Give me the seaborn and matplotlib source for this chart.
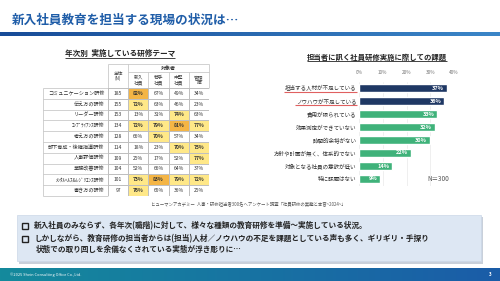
import numpy as np
import pandas as pd
import matplotlib
matplotlib.use("Agg")
import matplotlib.pyplot as plt
import seaborn as sns
from matplotlib.colors import ListedColormap, LinearSegmentedColormap
from matplotlib.patches import Rectangle

# ---------------- data ----------------
title = "新入社員教育を担当する現場の状況は…"
table_title = "年次別  実施している研修テーマ"
themes = ["コミュニケーション研修", "伝え方の研修", "リーダー研修", "ｺﾝﾌﾟﾗｲｱﾝｽ研修", "考え方の研修",
          "部下育成・後継指導研修", "人事評価研修", "業務改善研修", "ﾒﾝﾀﾙﾍﾙｽ&ﾚｼﾞﾘｴﾝｽ研修", "書き方の研修"]
theme_n = [185, 155, 153, 134, 128, 114, 109, 104, 101, 97]
n_header = "全体\n(N)"
target_header = "対象者"
grades = ["新入\n社員", "若手\n社員", "中堅\n社員", "管理\n職"]
pct_new = [82, 72, 13, 72, 66, 18, 25, 52, 73, 76]
pct_young = [67, 63, 31, 79, 70, 23, 17, 66, 83, 65]
pct_mid = [49, 46, 74, 81, 57, 70, 52, 64, 79, 36]
pct_mgr = [34, 23, 63, 77, 34, 75, 77, 37, 72, 25]

issue_title = "担当者に訊く社員研修実施に際しての課題"
issues = ["担当する人材が不足している", "ノウハウが不足している", "費用が限られている",
          "効果測定ができていない", "時間的余裕がない", "方針や計画が無く、体系的でない",
          "対象となる社員の意欲が低い", "特に課題はない"]
issue_pct = [37, 36, 33, 32, 30, 22, 14, 9]
issue_ticks = [0, 10, 20, 30, 40]
n_note = "N＝300"

source = "ヒューマンアカデミー  人事・研修担当者300名へアンケート調査「社員研修の実態と本音~2024~」"
bullets = ["新入社員のみならず、各年次(職階)に対して、様々な種類の教育研修を準備～実施している状況。",
           "しかしながら、教育研修の担当者からは(担当)人材／ノウハウの不足を課題としている声も多く、ギリギリ・手探り",
           "状態での取り回しを余儀なくされている実態が浮き彫りに…"]
footer = "©2025 Shein Consulting Office Co.,Ltd."
page = "3"

# ---------------- style ----------------
sns.set_style("white")
plt.rcParams["font.family"] = ["Noto Sans CJK JP", "DejaVu Sans"]

W, H = 500, 281
fig = plt.figure(figsize=(W / 100, H / 100), dpi=100)
fig.patch.set_facecolor("white")


def px_axes(x0, y0, x1, y1, **kw):
    return fig.add_axes([x0 / W, 1 - y1 / H, (x1 - x0) / W, (y1 - y0) / H], **kw)


bg = px_axes(0, 0, W, H)
bg.axis("off")

# title & header band
bg.text(12, 20, title, fontsize=9.1, fontweight="bold", color="#1F5DA8", va="center", ha="left")
grad = np.linspace(0, 1, 256)[None, :]
bg.imshow(grad, cmap=LinearSegmentedColormap.from_list("t", ["#184C98", "#3B86C8"]),
          extent=[0, W, 36, 32], aspect="auto", zorder=1)
# footer band
bg.imshow(grad, cmap=LinearSegmentedColormap.from_list("f", ["#148A9C", "#1B5CA8"]),
          extent=[0, W, H, 268], aspect="auto", zorder=1)
bg.text(10, 274.5, footer, fontsize=2.8, color="white", va="center", ha="left", zorder=2)
bg.text(490, 275, page, fontsize=3.2, color="white", va="center", ha="center", fontweight="bold", zorder=2)

# bullet box
bg.add_patch(Rectangle((18.5, 216.5), 464, 47, facecolor="#C9D0DA", edgecolor="none", zorder=1))
bg.add_patch(Rectangle((17, 215), 464, 46, facecolor="#DDE7F3", edgecolor="#CBD8E8", lw=0.5, zorder=2))
ys = [226, 239, 249.5]
for i, (s, y) in enumerate(zip(bullets, ys)):
    if i < 2:
        bg.add_patch(Rectangle((22, y - 3), 6, 6, facecolor="none", edgecolor="#222222", lw=1.0, zorder=3))
        bg.text(34, y, s, fontsize=5.5, fontweight="bold", color="#222222", va="center", ha="left", zorder=3)
    else:
        bg.text(36, y, s, fontsize=5.5, fontweight="bold", color="#222222", va="center", ha="left", zorder=3)

bg.text(248, 205, source, fontsize=3.2, color="#555555", va="center", ha="center")

# section titles
t1 = bg.text(120, 53, table_title, fontsize=5.5, fontweight="bold", color="#222222", va="center", ha="center")
t2 = bg.text(377, 57, issue_title, fontsize=5.3, fontweight="bold", color="#222222", va="center", ha="center")

# ---------------- table (heatmap) ----------------
df = pd.DataFrame({"N": theme_n, "新入": pct_new, "若手": pct_young, "中堅": pct_mid, "管理": pct_mgr},
                  index=themes)
levels = np.zeros(df.shape)
annot = np.empty(df.shape, dtype=object)
for r in range(df.shape[0]):
    annot[r, 0] = str(df.iloc[r, 0])
    for c in range(1, df.shape[1]):
        v = df.iloc[r, c]
        levels[r, c] = 2 if v >= 80 else (1 if v >= 70 else 0)
        annot[r, c] = f"{v}%"

tx = px_axes(108, 88, 209, 196)
cmap = ListedColormap(["white", "#FFE888", "#F4B545"])
sns.heatmap(levels, ax=tx, cmap=cmap, vmin=-0.5, vmax=2.5, cbar=False, annot=annot, fmt="",
            linewidths=0.5, linecolor="#BFBFBF", xticklabels=False, yticklabels=themes,
            annot_kws={"fontsize": 3.6, "color": "#333333"})
for t, lv in zip(tx.texts, levels.flat):
    if lv > 0:
        t.set_fontweight("bold")
tx.set_yticklabels(themes, rotation=0, fontsize=3.7, color="#333333")
tx.tick_params(axis="y", length=0, pad=2.5)
lab_w = (108 - 43) / 20.2
nrow = len(themes)
lc = "#BFBFBF"
tx.hlines(np.arange(nrow + 1), -lab_w, 0, color=lc, lw=0.5, clip_on=False)
tx.vlines(-lab_w, 0, nrow, color=lc, lw=0.5, clip_on=False)
hy0, hy1 = -24 / 10.8, -16 / 10.8
tx.hlines(hy0, 0, 5, color=lc, lw=0.5, clip_on=False)
tx.hlines(hy1, 1, 5, color=lc, lw=0.5, clip_on=False)
tx.vlines([0, 1, 5], hy0, 0, color=lc, lw=0.5, clip_on=False)
tx.vlines([2, 3, 4], hy1, 0, color=lc, lw=0.5, clip_on=False)
tx.text(0.5, hy0 / 2, n_header, fontsize=3.4, color="#444444", ha="center", va="center", clip_on=False,
        linespacing=1.1)
tx.text(3, (hy0 + hy1) / 2, target_header, fontsize=3.6, fontweight="bold", color="#333333",
        ha="center", va="center", clip_on=False)
for i, g in enumerate(grades):
    tx.text(i + 1.5, hy1 / 2, g, fontsize=3.4, color="#444444", ha="center", va="center",
            clip_on=False, linespacing=1.1)

# ---------------- bar chart ----------------
bx = px_axes(359, 81.5, 454, 185.5)
colors = ["#1F3864", "#1F3864"] + ["#3FB27A"] * 6
sns.barplot(x=issue_pct, y=issues, hue=issues, palette=colors, legend=False, orient="h",
            width=0.55, ax=bx, saturation=1)
bx.set_xlim(0, 40)
bx.set_ylim(len(issues) - 0.5, -0.5)
bx.set_xticks(issue_ticks)
bx.set_xticklabels([f"{t}%" for t in issue_ticks], fontsize=3.4, color="#777777")
bx.xaxis.tick_top()
bx.tick_params(axis="x", length=0, pad=5)
bx.tick_params(axis="y", length=0, pad=2, labelsize=4.0, labelcolor="#333333")
bx.set_xlabel("")
bx.set_ylabel("")
for s in bx.spines.values():
    s.set_visible(False)
bx.grid(axis="x", color="#E3E3E3", lw=0.4)
bx.set_axisbelow(True)
bx.patch.set_alpha(0)
for i, v in enumerate(issue_pct):
    bx.text(v - 1.3, i, f"{v}%", color="white", fontsize=4.0, fontweight="bold", ha="right", va="center")
bx.text(33.5, 7, n_note, fontsize=4.6, color="#555555", ha="center", va="center")

bg.set_xlim(0, W)
bg.set_ylim(H, 0)

# ---------------- underlines ----------------
fig.canvas.draw()
r = fig.canvas.get_renderer()


def underline(artist, color, lw, off, ext=0.0):
    bb = artist.get_window_extent(r)
    y = H - bb.y0 + off
    bg.plot([bb.x0 - ext, bb.x1 + ext], [y, y], color=color, lw=lw, solid_capstyle="butt", zorder=3)


underline(t1, "#222222", 0.6, 0.3)
underline(t2, "#222222", 0.6, 0.3)
for lab in bx.get_yticklabels()[:2]:
    underline(lab, "#E06060", 0.8, 0.8, ext=1.0)
bg.set_xlim(0, W)
bg.set_ylim(H, 0)

fig.savefig("out.png", dpi=100)
